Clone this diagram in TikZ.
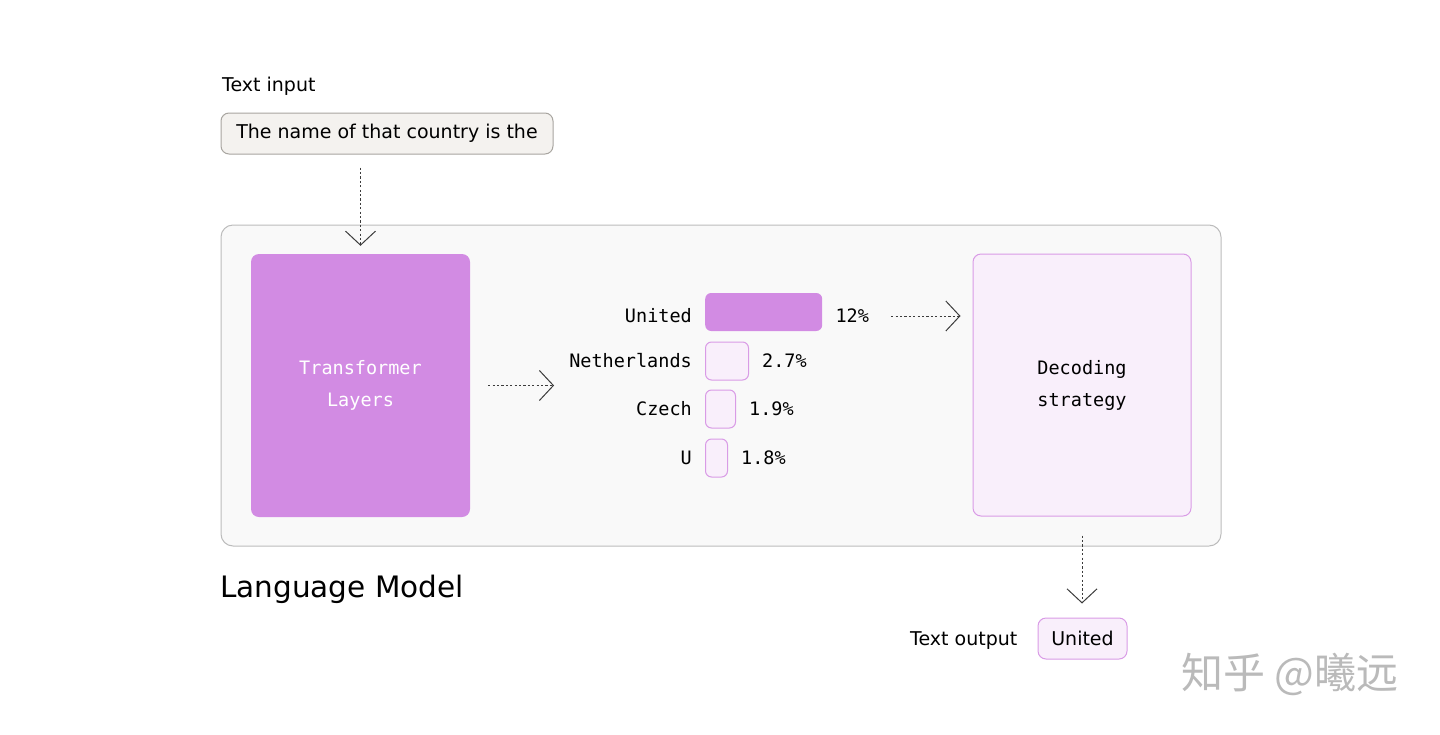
\documentclass[tikz,border=0pt]{standalone}
\usepackage{fontspec}
\setmainfont{DejaVu Sans}
\newfontfamily\monofont{DejaVu Sans Mono}
\newfontfamily\cjkfont{Noto Sans CJK SC}
\usetikzlibrary{arrows.meta,positioning}
\definecolor{lmpurple}{RGB}{210,139,227}
\definecolor{lmedge}{RGB}{217,155,230}
\definecolor{lmpale}{RGB}{249,239,251}
\definecolor{lmgray}{RGB}{249,249,249}
\definecolor{lmline}{RGB}{188,188,188}
\definecolor{inbox}{RGB}{244,242,239}
\definecolor{inedge}{RGB}{168,165,160}
\definecolor{arrowgray}{RGB}{60,60,60}

\begin{document}
\begin{tikzpicture}[x=1pt,y=-1pt,
flow/.style={draw=arrowgray, line width=1pt, dash pattern=on 2.2pt off 2.2pt,
  -{Straight Barb[length=14pt,width=30pt]}},
block/.style={rounded corners=8pt, minimum width=219pt, minimum height=263pt,
  align=center, font=\monofont\fontsize{18.5}{32}\selectfont},
bar/.style={rounded corners=6pt, minimum height=38pt, inner sep=0pt, anchor=west},
weak/.style={bar, draw=lmedge, line width=1pt, fill=lmpale},
word/.style={inner sep=0pt, font=\monofont\fontsize{18.5}{22}\selectfont},
plain/.style={inner sep=0pt, font=\fontsize{19}{23}\selectfont}]
\useasboundingbox (0,0) rectangle (1440,734);
% language model frame
\node (lm) at (721,385.5) [draw=lmline, line width=1pt, fill=lmgray, rounded corners=12pt,
  minimum width=1000pt, minimum height=321pt] {};
\node (lmlabel) at (220,589) [anchor=west, inner sep=0pt, font=\fontsize{29.5}{34}\selectfont] {Language Model};
% input
\node (inlabel) at (222,86) [plain, anchor=west] {Text input};
\node (inp) at (387,133.5) [draw=inedge, line width=1pt, fill=inbox, rounded corners=8pt,
  minimum width=332pt, minimum height=41pt, font=\fontsize{19}{23}\selectfont] {The name of that country is the};
% main blocks
\node (tl) at (360.5,385.5) [block, fill=lmpurple, text=white] {Transformer\\Layers};
\node (dec) at (1082,385) [block, draw=lmedge, line width=1pt, fill=lmpale, minimum width=218pt,
  minimum height=262pt] {Decoding\\strategy};
% token probabilities
\node (b1) at (705,312) [bar, fill=lmpurple, minimum width=117pt] {};
\node (b2) at (705,361) [weak, minimum width=43pt] {};
\node (b3) at (705,409) [weak, minimum width=30pt] {};
\node (b4) at (705,458) [weak, minimum width=22pt] {};
\node (l1) [word, left=13pt of b1, yshift=-4pt] {United};
\node (l2) [word, left=13pt of b2] {Netherlands};
\node (l3) [word, left=13pt of b3] {Czech};
\node (l4) [word, left=13pt of b4] {U};
\node (p1) [word, right=13pt of b1, yshift=-4pt] {12\%};
\node (p2) [word, right=13pt of b2] {2.7\%};
\node (p3) [word, right=13pt of b3] {1.9\%};
\node (p4) [word, right=13pt of b4] {1.8\%};
% output
\node (out) at (1082.5,638.5) [draw=lmedge, line width=1pt, fill=lmpale, rounded corners=8pt,
  minimum width=89pt, minimum height=41pt, font=\fontsize{19}{23}\selectfont] {United};
\node (outlabel) [plain, left=20pt of out, yshift=-2pt] {Text output};
\node (mark) at (1290,674) [inner sep=0pt, text=black!27, font=\cjkfont\fontsize{42}{46}\selectfont] {知乎 @曦远};
% arrows
\draw[flow, shorten <=13pt, shorten >=8pt] (inp.south -| tl.north) -- (tl.north);
\draw[flow, shorten <=18pt, shorten >=15pt] (tl.east) -- (tl.east -| l2.west);
\draw[flow, shorten <=22pt, shorten >=12pt] (p1.east) -- (p1.east -| dec.west);
\draw[flow, shorten <=19pt, shorten >=14pt] (dec.south) -- (dec.south |- out.north);
\end{tikzpicture}
\end{document}
